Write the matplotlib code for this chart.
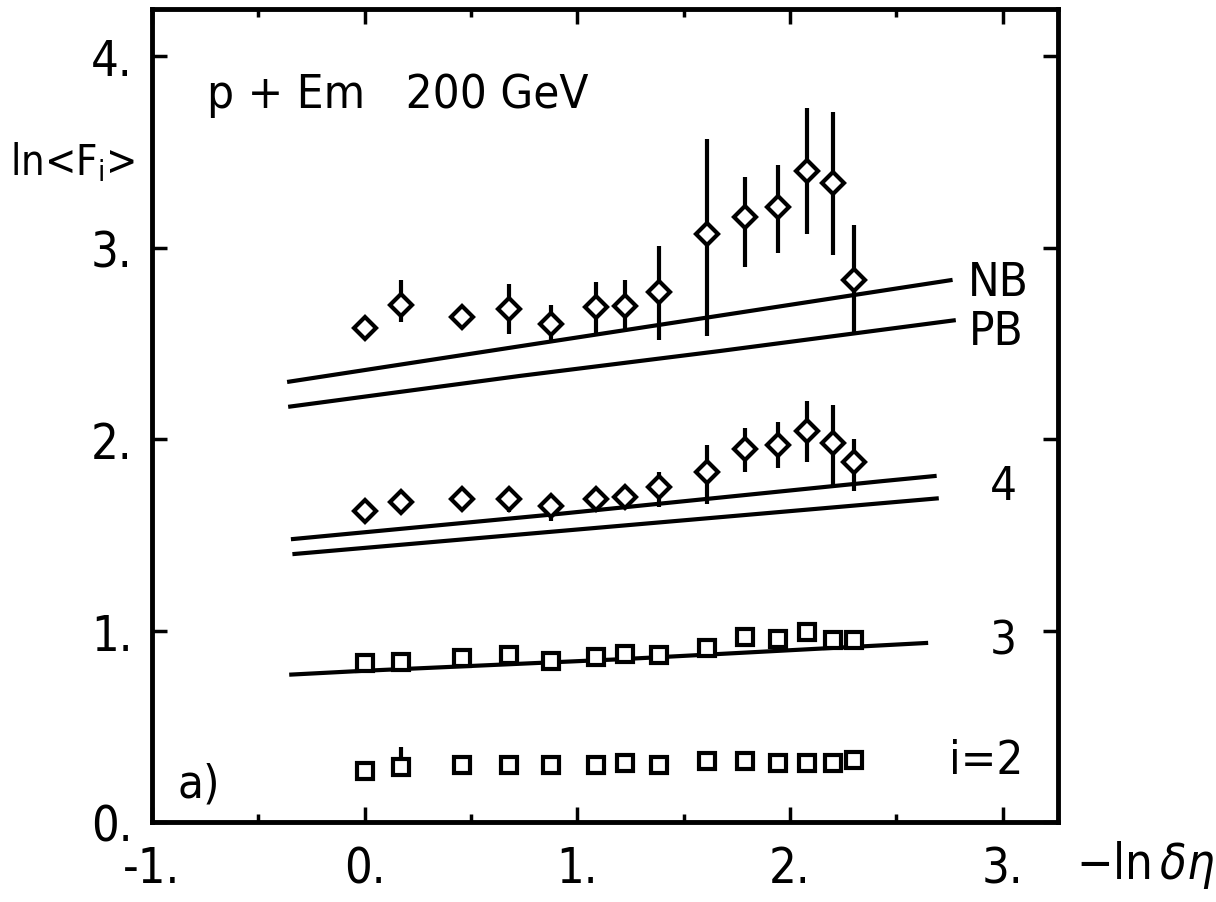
import matplotlib
matplotlib.use("Agg")
import matplotlib.pyplot as plt
from matplotlib.ticker import MultipleLocator

plt.rcParams['font.family'] = ['DejaVu Sans']
plt.rcParams['font.stretch'] = 'condensed'
plt.rcParams['mathtext.fontset'] = 'dejavusans'

# -ln(delta eta) positions, shared by all four series
x_eta = [0.00, 0.17, 0.46, 0.68, 0.875, 1.09, 1.225, 1.385, 1.61, 1.79, 1.945, 2.08, 2.20, 2.30]

# top group (NB / PB lines)
f_top = [2.58, 2.70, 2.64, 2.68, 2.60, 2.69, 2.695, 2.77, 3.07, 3.16, 3.21, 3.40, 3.34, 2.83]
f_top_hi = [2.58, 2.83, 2.64, 2.81, 2.70, 2.82, 2.83, 3.01, 3.57, 3.37, 3.43, 3.73, 3.71, 3.12]
f_top_lo = [2.58, 2.61, 2.64, 2.55, 2.51, 2.54, 2.56, 2.52, 2.54, 2.90, 2.97, 3.07, 2.96, 2.55]

# i = 4
f4 = [1.625, 1.67, 1.686, 1.686, 1.65, 1.687, 1.70, 1.75, 1.83, 1.95, 1.97, 2.04, 1.98, 1.88]
f4_hi = [1.625, 1.67, 1.686, 1.74, 1.65, 1.687, 1.70, 1.83, 1.97, 2.06, 2.09, 2.20, 2.18, 2.00]
f4_lo = [1.625, 1.67, 1.686, 1.62, 1.57, 1.687, 1.70, 1.645, 1.66, 1.83, 1.85, 1.88, 1.76, 1.73]

# i = 3
f3 = [0.83, 0.835, 0.857, 0.87, 0.84, 0.86, 0.875, 0.87, 0.91, 0.965, 0.955, 0.99, 0.95, 0.95]

# i = 2
f2 = [0.266, 0.287, 0.30, 0.30, 0.30, 0.30, 0.31, 0.30, 0.318, 0.318, 0.31, 0.31, 0.31, 0.325]
f2_hi = [0.266, 0.39, 0.30, 0.30, 0.30, 0.30, 0.31, 0.30, 0.318, 0.318, 0.31, 0.31, 0.31, 0.325]

# model curves
nb_x = [-0.355, 0.73, 1.67, 2.755]
nb_y = [2.30, 2.485, 2.645, 2.83]
pb_x = [-0.35, 0.73, 1.67, 2.77]
pb_y = [2.17, 2.33, 2.46, 2.62]
l4a_x = [-0.337, 0.92, 2.43, 2.68]
l4a_y = [1.478, 1.61, 1.78, 1.807]
l4b_x = [-0.33, 2.69]
l4b_y = [1.40, 1.69]
l3_x = [-0.345, 0.0, 1.2, 2.64]
l3_y = [0.77, 0.79, 0.85, 0.935]

x_ticks = [-1, 0, 1, 2, 3]
x_ticklabels = ['-1.', '0.', '1.', '2.', '3.']
y_ticks = [0, 1, 2, 3, 4]
y_ticklabels = ['0.', '1.', '2.', '3.', '4.']

fig = plt.figure(figsize=(12.16, 9.03), dpi=100)
ax = fig.add_axes([0.125, 0.0886, 0.745, 0.900])

lw = 3.0
for xs, ys in [(nb_x, nb_y), (pb_x, pb_y), (l4a_x, l4a_y), (l4b_x, l4b_y), (l3_x, l3_y)]:
    ax.plot(xs, ys, color='black', lw=lw, zorder=2)

def errbars(x, lo, hi):
    ax.vlines(x, lo, hi, color='black', lw=lw, zorder=3)

errbars(x_eta, f_top_lo, f_top_hi)
errbars(x_eta, f4_lo, f4_hi)
errbars(x_eta, f2, f2_hi)

ax.plot(x_eta, f_top, 'D', ms=11, mfc='white', mec='black', mew=3, zorder=4)
ax.plot(x_eta, f4, 'D', ms=11, mfc='white', mec='black', mew=3, zorder=4)
ax.plot(x_eta, f3, 's', ms=12, mfc='white', mec='black', mew=3, zorder=4)
ax.plot(x_eta, f2, 's', ms=12, mfc='white', mec='black', mew=3, zorder=4)

ax.set_xlim(-1, 3.26)
ax.set_ylim(0, 4.245)

ax.set_xticks(x_ticks)
ax.set_xticklabels(x_ticklabels)
ax.xaxis.set_minor_locator(MultipleLocator(0.5))
ax.set_yticks(y_ticks)
ax.set_yticklabels(y_ticklabels)

ax.tick_params(axis='both', which='major', direction='in', length=11, width=2.5,
               top=True, right=True, labelsize=35)
ax.tick_params(axis='x', which='major', pad=16)
ax.tick_params(axis='y', which='major', pad=14)
ax.tick_params(axis='x', which='minor', direction='in', length=6, width=2.5, top=True)
for sp in ax.spines.values():
    sp.set_linewidth(3.5)

fs = 34
ax.text(-0.74, 3.80, 'p + Em   200 GeV', fontsize=fs, va='center', ha='left')
ax.text(-0.88, 0.20, 'a)', fontsize=fs, va='center', ha='left')
ax.text(2.835, 2.82, 'NB', fontsize=fs, va='center', ha='left')
ax.text(2.84, 2.56, 'PB', fontsize=fs, va='center', ha='left')
ax.text(2.94, 1.755, '4', fontsize=fs, va='center', ha='left')
ax.text(2.94, 0.945, '3', fontsize=fs, va='center', ha='left')
ax.text(2.75, 0.32, 'i=2', fontsize=fs, va='center', ha='left')

fig.text(0.008, 0.82, r'ln<F$_\mathregular{i}$>', fontsize=30, va='center', ha='left')
fig.text(0.885, 0.042, r'$-\mathregular{ln}\,\delta\eta$', fontsize=35, va='center', ha='left')

fig.savefig('out.png', dpi=100)
